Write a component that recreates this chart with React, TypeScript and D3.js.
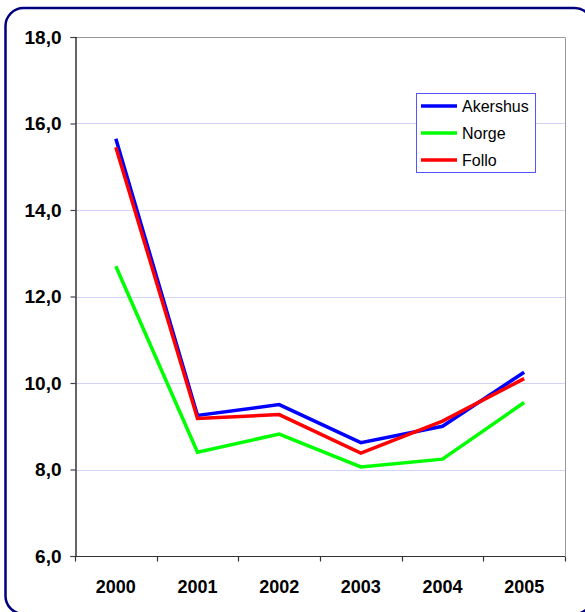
import { useEffect, useRef } from "react";
import * as d3 from "d3";

const years = ["2000", "2001", "2002", "2003", "2004", "2005"];
const akershus = [15.65, 9.25, 9.5, 8.62, 9.0, 10.25];
const norge = [12.7, 8.4, 8.82, 8.06, 8.24, 9.55];
const follo = [15.45, 9.18, 9.27, 8.38, 9.12, 10.1];
const yTicks = [6, 8, 10, 12, 14, 16, 18];

const seriesList = [
  { name: "Akershus", values: akershus, color: "#0000ff" },
  { name: "Norge", values: norge, color: "#00ff00" },
  { name: "Follo", values: follo, color: "#ff0000" },
];

const W = 585;
const H = 612;

const App = () => {
  const svgRef = useRef<SVGSVGElement | null>(null);

  useEffect(() => {
    const svg = d3.select(svgRef.current);
    svg.selectAll("*").remove();

    const margin = { top: 37, right: 20, bottom: 56, left: 75 };
    const font = "'Liberation Sans', Arial, sans-serif";

    // Outer rounded frame
    svg
      .append("rect")
      .attr("x", 5.5)
      .attr("y", 8)
      .attr("width", 587)
      .attr("height", 606)
      .attr("rx", 18)
      .attr("fill", "white")
      .attr("stroke", "#000080")
      .attr("stroke-width", 2.5);

    const x = d3
      .scaleBand()
      .domain(years)
      .range([margin.left, W - margin.right]);

    const y = d3
      .scaleLinear()
      .domain([6, 18])
      .range([H - margin.bottom, margin.top]);

    // Grid lines
    svg
      .append("g")
      .selectAll("line")
      .data(yTicks.filter((t) => t > 6 && t < 18))
      .join("line")
      .attr("x1", margin.left)
      .attr("x2", W - margin.right)
      .attr("y1", (d) => Math.round(y(d)) + 0.5)
      .attr("y2", (d) => Math.round(y(d)) + 0.5)
      .attr("stroke", "#d4d4fa")
      .attr("stroke-width", 1);

    // Plot frame top / right (gray)
    svg
      .append("path")
      .attr(
        "d",
        `M${margin.left},${Math.round(y(18)) + 0.5}H${W - margin.right + 0.5}V${y(6)}`,
      )
      .attr("fill", "none")
      .attr("stroke", "#999")
      .attr("stroke-width", 1);

    // Y axis
    const yAxis = d3
      .axisLeft(y)
      .tickValues(yTicks)
      .tickSize(5)
      .tickPadding(9)
      .tickFormat((d) => d3.format(".1f")(d as number).replace(".", ","));
    svg
      .append("g")
      .attr("transform", `translate(${margin.left + 0.5},0)`)
      .call(yAxis)
      .call((g) => {
        g.select(".domain").attr("stroke", "#000").attr("stroke-width", 1.2);
        g.selectAll(".tick line").attr("stroke", "#444").attr("stroke-width", 1.2);
        g.selectAll("text")
          .attr("fill", "#000")
          .style("font-family", font)
          .style("font-size", "19px")
          .style("font-weight", "bold");
      });

    // X axis with ticks at band boundaries
    const bottomY = Math.round(y(6)) + 0.5;
    svg
      .append("line")
      .attr("x1", margin.left)
      .attr("x2", W - margin.right)
      .attr("y1", bottomY)
      .attr("y2", bottomY)
      .attr("stroke", "#333")
      .attr("stroke-width", 1.2);
    const boundaries = [...years.map((yr) => x(yr) ?? 0), W - margin.right];
    svg
      .append("g")
      .selectAll("line")
      .data(boundaries)
      .join("line")
      .attr("x1", (d) => Math.round(d) + 0.5)
      .attr("x2", (d) => Math.round(d) + 0.5)
      .attr("y1", bottomY)
      .attr("y2", bottomY + 5)
      .attr("stroke", "#333")
      .attr("stroke-width", 1.2);
    svg
      .append("g")
      .selectAll("text")
      .data(years)
      .join("text")
      .attr("x", (d) => (x(d) ?? 0) + x.bandwidth() / 2)
      .attr("y", bottomY + 36.5)
      .attr("text-anchor", "middle")
      .attr("fill", "#000")
      .style("font-family", font)
      .style("font-size", "18px")
      .style("font-weight", "bold")
      .text((d) => d);

    // Lines
    const line = d3
      .line<number>()
      .x((_, i) => (x(years[i]) ?? 0) + x.bandwidth() / 2)
      .y((d) => y(d));

    seriesList.forEach((s) => {
      svg
        .append("path")
        .datum(s.values)
        .attr("d", line)
        .attr("fill", "none")
        .attr("stroke", s.color)
        .attr("stroke-width", 3.5);
    });

    // Legend
    const lg = svg.append("g").attr("transform", "translate(416,93)");
    lg.append("rect")
      .attr("x", 0.5)
      .attr("y", 0.5)
      .attr("width", 119)
      .attr("height", 79)
      .attr("fill", "white")
      .attr("stroke", "#5555ff")
      .attr("stroke-width", 1);
    seriesList.forEach((s, i) => {
      const cy = 13 + i * 27;
      lg.append("line")
        .attr("x1", 5)
        .attr("x2", 41)
        .attr("y1", cy)
        .attr("y2", cy)
        .attr("stroke", s.color)
        .attr("stroke-width", 3.5);
      lg.append("text")
        .attr("x", 46)
        .attr("y", cy + 6)
        .attr("fill", "#000")
        .style("font-family", font)
        .style("font-size", "16px")
        .text(s.name);
    });
  }, []);

  return (
    <svg
      ref={svgRef}
      width={W}
      height={H}
      style={{ position: "absolute", left: 0, top: 0, display: "block" }}
    />
  );
};

export default App;
